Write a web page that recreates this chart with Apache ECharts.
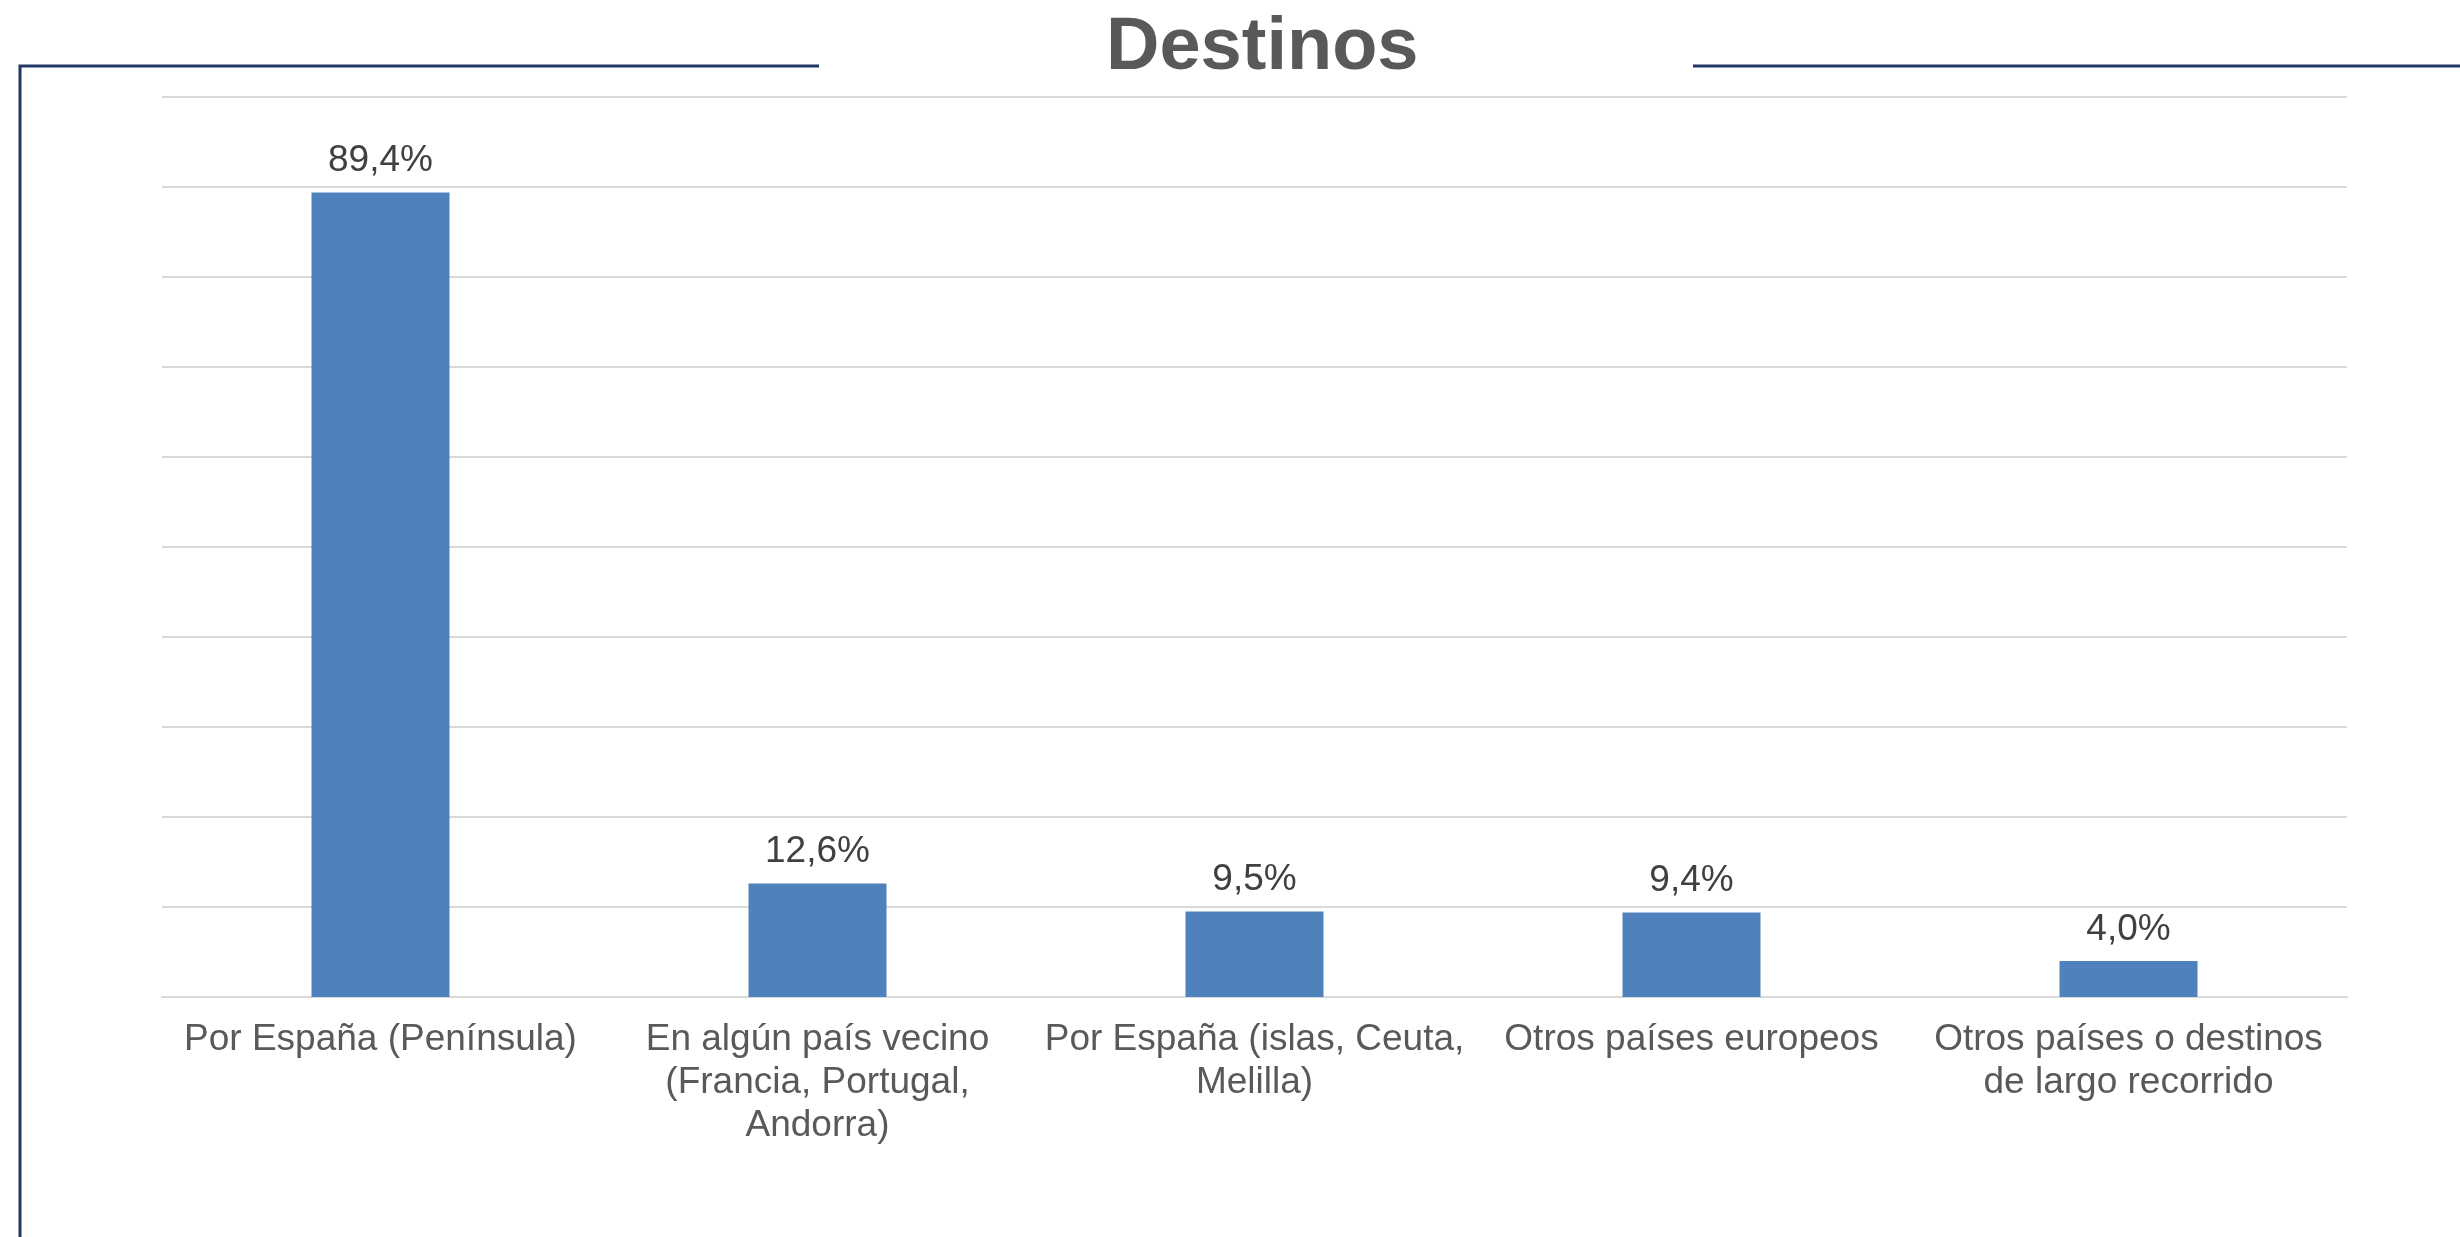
<!DOCTYPE html>
<html>
<head>
<meta charset="utf-8">
<title>Destinos</title>
<script src="https://cdn.jsdelivr.net/npm/echarts@6/dist/echarts.min.js"></script>
<style>
  html, body { margin: 0; padding: 0; background: #fff; }
  #chart { width: 2460px; height: 1237px; }
</style>
</head>
<body>
<div id="chart"></div>
<script>
// categorías (con saltos de línea como en el original)
var categories = [
  'Por España (Península)',
  'En algún país vecino\n(Francia, Portugal,\nAndorra)',
  'Por España (islas, Ceuta,\nMelilla)',
  'Otros países europeos',
  'Otros países o destinos\nde largo recorrido'
];
// porcentajes
var values = [89.4, 12.6, 9.5, 9.4, 4.0];

var chart = echarts.init(document.getElementById('chart'));
var navy = '#1F3864';

var option = {
  backgroundColor: '#fff',
  animation: false,
  title: {
    text: 'Destinos',
    left: 1101,
    top: 7,
    textStyle: {
      fontFamily: 'Liberation Sans',
      fontSize: 74,
      fontWeight: 'bold',
      color: '#595959'
    }
  },
  graphic: [
    {
      type: 'polyline',
      shape: { points: [[20, 1237], [20, 66], [819, 66]] },
      style: { stroke: navy, lineWidth: 3, fill: null }
    },
    {
      type: 'line',
      shape: { x1: 1693, y1: 66, x2: 2460, y2: 66 },
      style: { stroke: navy, lineWidth: 3 }
    }
  ],
  grid: {
    left: 162,
    right: 113,
    top: 97,
    bottom: 240
  },
  xAxis: {
    type: 'category',
    data: categories,
    axisTick: { show: false },
    axisLine: { lineStyle: { color: '#d9d9d9', width: 2 } },
    axisLabel: {
      interval: 0,
      margin: 21,
      fontFamily: 'Liberation Sans',
      fontSize: 37,
      lineHeight: 43,
      color: '#595959'
    }
  },
  yAxis: {
    type: 'value',
    min: 0,
    max: 100,
    interval: 10,
    axisLabel: { show: false },
    axisLine: { show: false },
    axisTick: { show: false },
    splitLine: { lineStyle: { color: '#d9d9d9', width: 2 } }
  },
  series: [
    {
      type: 'bar',
      data: values,
      barWidth: 138,
      itemStyle: { color: '#4F81BD' },
      label: {
        show: true,
        position: 'top',
        distance: 13,
        fontFamily: 'Liberation Sans',
        fontSize: 37,
        color: '#404040',
        formatter: function (p) {
          return p.value.toFixed(1).replace('.', ',') + '%';
        }
      }
    }
  ]
};

chart.setOption(option);
</script>
</body>
</html>
